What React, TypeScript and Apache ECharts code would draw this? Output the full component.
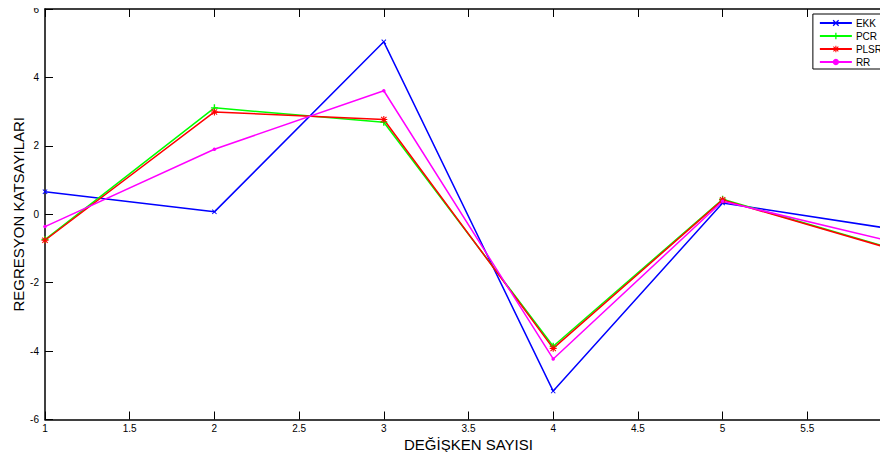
import React, { useEffect, useRef } from "react";
import * as echarts from "echarts";

const xValues = [1, 2, 3, 4, 5, 6];
const ekk = [0.66, 0.07, 5.04, -5.17, 0.33, -0.43];
const pcr = [-0.74, 3.11, 2.69, -3.86, 0.44, -1.0];
const plsr = [-0.76, 2.99, 2.77, -3.92, 0.42, -1.02];
const rr = [-0.36, 1.9, 3.61, -4.23, 0.38, -0.8];
const seriesNames = ["EKK", "PCR", "PLSR", "RR"];

const PLUS = "path://M4,0H6V10H4Z M0,4H10V6H0Z";
const CROSS = "path://M0,1.4L1.4,0L10,8.6L8.6,10Z M8.6,0L10,1.4L1.4,10L0,8.6Z";
const STAR =
  "path://M4.2,0H5.8V10H4.2Z M0,4.2H10V5.8H0Z M0.6,1.7L1.7,0.6L9.4,8.3L8.3,9.4Z M8.3,0.6L9.4,1.7L1.7,9.4L0.6,8.3Z";

const pair = (ys: number[]) => xValues.map((x, i) => [x, ys[i]]);

export default function App() {
  const ref = useRef<HTMLDivElement>(null);
  useEffect(() => {
    if (!ref.current) return;
    const chart = echarts.init(ref.current, undefined, { renderer: "svg" });
    const font = "Liberation Sans, Arial, Helvetica, sans-serif";
    const axisLine = { show: true, onZero: false, lineStyle: { color: "#000", width: 1.5 } };
    const tick = { show: true, inside: true, length: 8, lineStyle: { color: "#000", width: 1 } };
    const mk = (name: string, data: number[], color: string, symbol: string, size: number) => ({
      name,
      type: "line",
      data: pair(data),
      symbol,
      symbolSize: size,
      showSymbol: true,
      lineStyle: { color, width: 1.5 },
      itemStyle: { color, borderWidth: 0 },
      emphasis: { disabled: true },
      z: 3,
    });
    chart.setOption({
      animation: false,
      backgroundColor: "#fff",
      grid: {
        left: 45,
        top: 9,
        height: 410.5,
        width: 847,
        containLabel: false,
        outerBoundsMode: "none",
      },
      legend: {
        show: true,
        data: seriesNames,
        orient: "vertical",
        right: 4,
        top: 14,
        backgroundColor: "#fff",
        borderColor: "#000",
        borderWidth: 1,
        borderRadius: 0,
        padding: [4, 2, 2, 6],
        itemWidth: 32,
        itemHeight: 8,
        itemGap: 3,
        z: 10,
        textStyle: { fontFamily: font, fontSize: 10, color: "#000", padding: [0, 0, 0, -1] },
      },
      xAxis: [
        {
          type: "value",
          min: 1,
          max: 6,
          interval: 0.5,
          axisLine,
          axisTick: tick,
          splitLine: { show: false },
          axisLabel: { color: "#000", fontFamily: font, fontSize: 10, margin: 4, showMaxLabel: false },
          name: "DEĞİŞKEN SAYISI",
          nameLocation: "middle",
          nameGap: 17,
          nameMoveOverlap: false,
          nameTextStyle: { color: "#000", fontFamily: font, fontSize: 15, verticalAlign: "top" },
        },
        {
          type: "value",
          position: "top",
          min: 1,
          max: 6,
          interval: 0.5,
          axisLine,
          axisTick: tick,
          splitLine: { show: false },
          axisLabel: { show: false },
        },
      ],
      yAxis: [
        {
          type: "value",
          min: -6,
          max: 6,
          interval: 2,
          axisLine,
          axisTick: tick,
          splitLine: { show: false },
          axisLabel: { color: "#000", fontFamily: font, fontSize: 10, margin: 6 },
          name: "REGRESYON KATSAYILARI",
          nameLocation: "middle",
          nameGap: 19,
          nameMoveOverlap: false,
          nameTextStyle: { color: "#000", fontFamily: font, fontSize: 15 },
        },
        {
          type: "value",
          position: "right",
          min: -6,
          max: 6,
          interval: 2,
          axisLine,
          axisTick: tick,
          splitLine: { show: false },
          axisLabel: { show: false },
        },
      ],
      series: [
        mk("EKK", ekk, "#0000ff", CROSS, 5),
        mk("PCR", pcr, "#00ff00", PLUS, 7),
        mk("PLSR", plsr, "#ff0000", STAR, 7),
        mk("RR", rr, "#ff00ff", "circle", 3.5),
      ],
    });
    return () => chart.dispose();
  }, []);
  return <div ref={ref} style={{ width: 888, height: 460, margin: -8 }} />;
}
